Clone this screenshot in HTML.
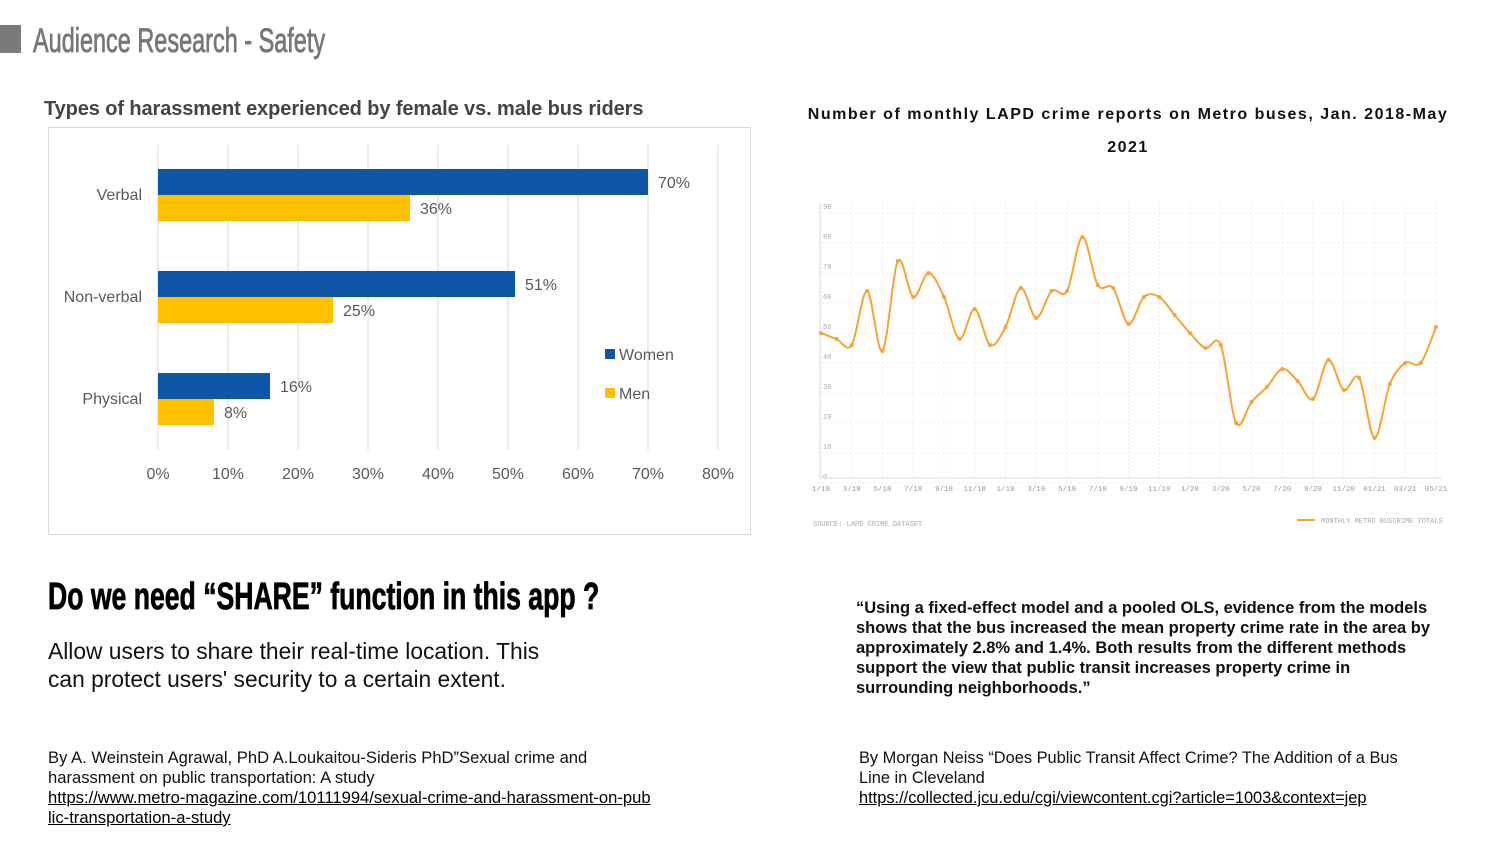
<!DOCTYPE html>
<html><head><meta charset="utf-8">
<style>
body{margin:0;width:1500px;height:843px;background:#fff;position:relative;overflow:hidden;font-family:"Liberation Sans",sans-serif;}
.abs{position:absolute;white-space:nowrap;}
.cond{display:inline-block;transform-origin:0 0;}
a{color:#000;text-decoration:underline;}
</style></head><body>
<div class="abs" style="left:0;top:25px;width:21px;height:28px;background:#7a7a7a;"></div>
<div class="abs" style="left:33px;top:22px;font-size:34px;color:#777;-webkit-text-stroke:0.8px #777;"><span class="cond" style="transform:scaleX(0.69)">Audience Research - Safety</span></div>

<div class="abs" style="left:44px;top:98px;font-size:20px;font-weight:bold;color:#444;letter-spacing:-0.1px;">Types of harassment experienced by female vs. male bus riders</div>
<svg class="abs" style="left:0;top:0" width="760" height="540" id="bars" font-family="Liberation Sans, sans-serif"></svg>

<div class="abs" style="left:770px;top:98px;width:716px;text-align:center;font-size:16px;font-weight:bold;line-height:33px;color:#111;letter-spacing:1.5px;">Number of monthly LAPD crime reports on Metro buses, Jan. 2018-May<br>2021</div>
<svg class="abs" style="left:0;top:0;left:0" width="1500" height="540" id="line" font-family="Liberation Mono, monospace"></svg>

<div class="abs" style="left:48px;top:576px;font-size:38px;font-weight:bold;color:#000;-webkit-text-stroke:0.8px #000;"><span class="cond" style="transform:scaleX(0.7)">Do we need “SHARE” function in this app ?</span></div>
<div class="abs" style="left:48px;top:637px;font-size:22.8px;line-height:28px;color:#111;">Allow users to share their real-time location. This<br>can protect users' security to a certain extent.</div>

<div class="abs" style="left:856px;top:598px;font-size:16.5px;font-weight:bold;line-height:20px;color:#111;">“Using a fixed-effect model and a pooled OLS, evidence from the models<br>shows that the bus increased the mean property crime rate in the area by<br>approximately 2.8% and 1.4%. Both results from the different methods<br>support the view that public transit increases property crime in<br>surrounding neighborhoods.”</div>

<div class="abs" style="left:48px;top:748px;font-size:16.6px;line-height:20px;color:#111;">By  A. Weinstein Agrawal, PhD A.Loukaitou-Sideris PhD”Sexual crime and<br>harassment on public transportation: A study<br><a>https://www.metro-magazine.com/10111994/sexual-crime-and-harassment-on-pub<br>lic-transportation-a-study</a></div>
<div class="abs" style="left:859px;top:748px;font-size:16.4px;line-height:20px;color:#111;">By Morgan Neiss “Does Public Transit Affect Crime? The Addition of a Bus<br>Line in Cleveland<br><a>https://collected.jcu.edu/cgi/viewcontent.cgi?article=1003&amp;context=jep</a></div>

<script>
const barCats=["Verbal","Non-verbal","Physical"];
const women=[70,51,16];
const men=[36,25,8];
const xTicks=[0,10,20,30,40,50,60,70,80];

const months=["1/18","3/18","5/18","7/18","9/18","11/18","1/19","3/19","5/19","7/19","9/19","11/19","1/20","3/20","5/20","7/20","9/20","11/20","01/21","03/21","05/21"];
const crimes=[50,48,46,64,44,74,62,70,62,48,58,46,52,65,55,64,64,82,66,65,53,62,62,56,50,45,46,20,27,32,38,34,28,41,31,35,15,33,40,40,52];
const yTicks=[0,10,20,30,40,50,60,70,80,90];

const NS="http://www.w3.org/2000/svg";
function mk(p,t,a){const e=document.createElementNS(NS,t);for(const k in a)e.setAttribute(k,a[k]);p.appendChild(e);return e;}

// bar chart
const B=document.getElementById('bars');
const bx=v=>158+v*7;
const r=mk(B,'rect',{x:48.5,y:127.5,width:702,height:407,fill:'none',stroke:'#d9d9d9'});

xTicks.forEach(t=>{
  const l=mk(B,'line',{x1:bx(t),x2:bx(t),y1:145,y2:450,stroke:'#d9d9d9'});
  
  const tx=mk(B,'text',{x:bx(t),y:479,'text-anchor':'middle','font-size':16,fill:'#595959'});tx.textContent=t+'%';
  
});
barCats.forEach((c,i)=>{
  const y0=169+i*102;
  const lab=mk(B,'text',{x:142,y:y0+31,'text-anchor':'end','font-size':16,fill:'#595959'});lab.textContent=c;
  
  const w=mk(B,'rect',{x:bx(0),y:y0,width:bx(women[i])-bx(0),height:26,fill:'#0f56a8'});
  
  const m=mk(B,'rect',{x:bx(0),y:y0+26,width:bx(men[i])-bx(0),height:26,fill:'#ffc000'});
  
  const wl=mk(B,'text',{x:bx(women[i])+10,y:y0+19,'font-size':16,fill:'#595959'});wl.textContent=women[i]+'%';
  
  const ml=mk(B,'text',{x:bx(men[i])+10,y:y0+45,'font-size':16,fill:'#595959'});ml.textContent=men[i]+'%';
  
});
[['Women','#0f56a8',354],['Men','#ffc000',393]].forEach(([n,c,y])=>{
  const g=mk(B,'g',{});
  
  mk(g,'rect',{x:605,y:y-5,width:10,height:10,fill:c});
  const t=mk(g,'text',{x:619,y:y+6,'font-size':16,fill:'#595959'});t.textContent=n;
});

// line chart
const L=document.getElementById('line');
const lx=i=>821+i*15.375;
const ly=v=>333-3*(v-50);
yTicks.forEach(t=>{
  const l=mk(L,'line',{x1:818,x2:1440,y1:ly(t),y2:ly(t),stroke:'#ececec','stroke-dasharray':'2,2'});
  
  const tx=mk(L,'text',{x:823,y:ly(t)-4,'font-size':7,fill:'#aaa'});tx.textContent=t;
  
});
months.forEach((m,j)=>{
  const x=lx(j*2);
  const l=mk(L,'line',{x1:x,x2:x,y1:203,y2:478,stroke:'#ececec','stroke-dasharray':'2,2'});
  
  const tx=mk(L,'text',{x:x,y:491,'text-anchor':'middle','font-size':7.5,fill:'#999'});tx.textContent=m;
  
});
const ax=mk(L,'path',{d:'M820,203V478H1442',fill:'none',stroke:'#ddd'});

const pts=crimes.map((v,i)=>[lx(i),ly(v)]);
let d='M'+pts[0][0]+','+pts[0][1];
for(let i=0;i<pts.length-1;i++){
  const p0=pts[Math.max(0,i-1)],p1=pts[i],p2=pts[i+1],p3=pts[Math.min(pts.length-1,i+2)];
  const c1=[p1[0]+(p2[0]-p0[0])/6,p1[1]+(p2[1]-p0[1])/6],c2=[p2[0]-(p3[0]-p1[0])/6,p2[1]-(p3[1]-p1[1])/6];
  d+=` C${c1[0]},${c1[1]} ${c2[0]},${c2[1]} ${p2[0]},${p2[1]}`;
}
const ln=mk(L,'path',{d:d,fill:'none',stroke:'#f7a336','stroke-width':2});

pts.forEach(p=>{
  const c=mk(L,'circle',{cx:p[0],cy:p[1],r:2,fill:'#f7a336'});
  
});
const src=mk(L,'text',{x:813,y:526,'font-size':7,fill:'#aaa'});src.textContent='SOURCE: LAPD CRIME DATASET';

const lg=mk(L,'g',{});

mk(lg,'line',{x1:1297,x2:1315,y1:520,y2:520,stroke:'#f7a336','stroke-width':2});
const lt=mk(lg,'text',{x:1321,y:523,'font-size':7,fill:'#aaa'});lt.textContent='MONTHLY METRO BUSCRIME TOTALS';
</script>
</body></html>
